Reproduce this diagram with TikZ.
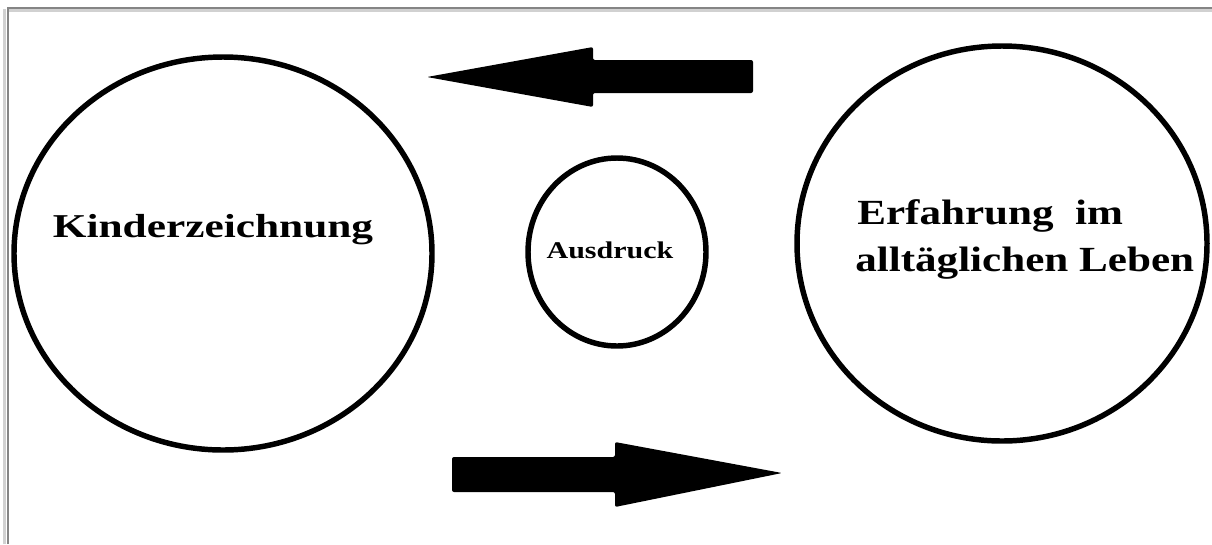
\documentclass[tikz,border=0pt]{standalone}
\usepackage{fontspec}
\setmainfont{Liberation Serif}
\usepackage{graphicx}
\usetikzlibrary{shapes.geometric}
\tikzset{
  ring/.style={ellipse, draw=black, line width=4.1pt, inner sep=0pt},
  label/.style={inner sep=0pt, text=black},
  blockarrow/.style={fill=black, rounded corners=1.5pt},
  frameline/.style={draw=black!48, line width=1.6pt},
  frameshade/.style={draw=black!18, line width=2.2pt}
}
\begin{document}
\begin{tikzpicture}[x=0.75pt, y=-0.75pt]
  \useasboundingbox (0,0) rectangle (1212,544);
  \fill[white] (0,0) rectangle (1212,544);

  % frame along the top and left edges, with a soft shade outside
  \draw[frameshade] (4.5,544) -- (4.5,9);
  \draw[frameshade] (9,10.5) -- (1212,10.5);
  \draw[frameline] (8,544) -- (8,8) -- (1212,8);

  % the three rings
  \node[ring, minimum width=313.5pt, minimum height=294.75pt] (kid) at (223,253.5) {};
  \node[ring, minimum width=133.5pt, minimum height=141pt] (expr) at (617,252) {};
  \node[ring, minimum width=307.5pt, minimum height=296.25pt] (life) at (1002,243.5) {};

  % labels
  \node[label, anchor=base] (kidtext) at (213,237)
    {\fontsize{25pt}{30pt}\selectfont\bfseries\scalebox{1.3}[1]{Kinderzeichnung}};
  \node[label, anchor=base] (exprtext) at (610,258)
    {\fontsize{18pt}{22pt}\selectfont\bfseries\scalebox{1.25}[1]{Ausdruck}};
  \node[label, anchor=base west] (lifetextA) at (857,224)
    {\fontsize{26.5pt}{32pt}\selectfont\bfseries\scalebox{1.22}[1]{Erfahrung\hspace{0.5em}im}};
  \node[label, anchor=base west] (lifetextB) at (855,271)
    {\fontsize{26.5pt}{32pt}\selectfont\bfseries\scalebox{1.22}[1]{alltäglichen Leben}};

  % block arrows between the rings
  \coordinate (topTip) at (427,77);
  \coordinate (botTip) at (782,473);
  \fill[blockarrow] (753,60) -- (593,60) -- (593,47) -- (topTip)
    -- (593,107) -- (593,93) -- (753,93) -- cycle;
  \fill[blockarrow] (452,457) -- (615,457) -- (615,442) -- (botTip)
    -- (615,507) -- (615,492) -- (452,492) -- cycle;
\end{tikzpicture}
\end{document}
